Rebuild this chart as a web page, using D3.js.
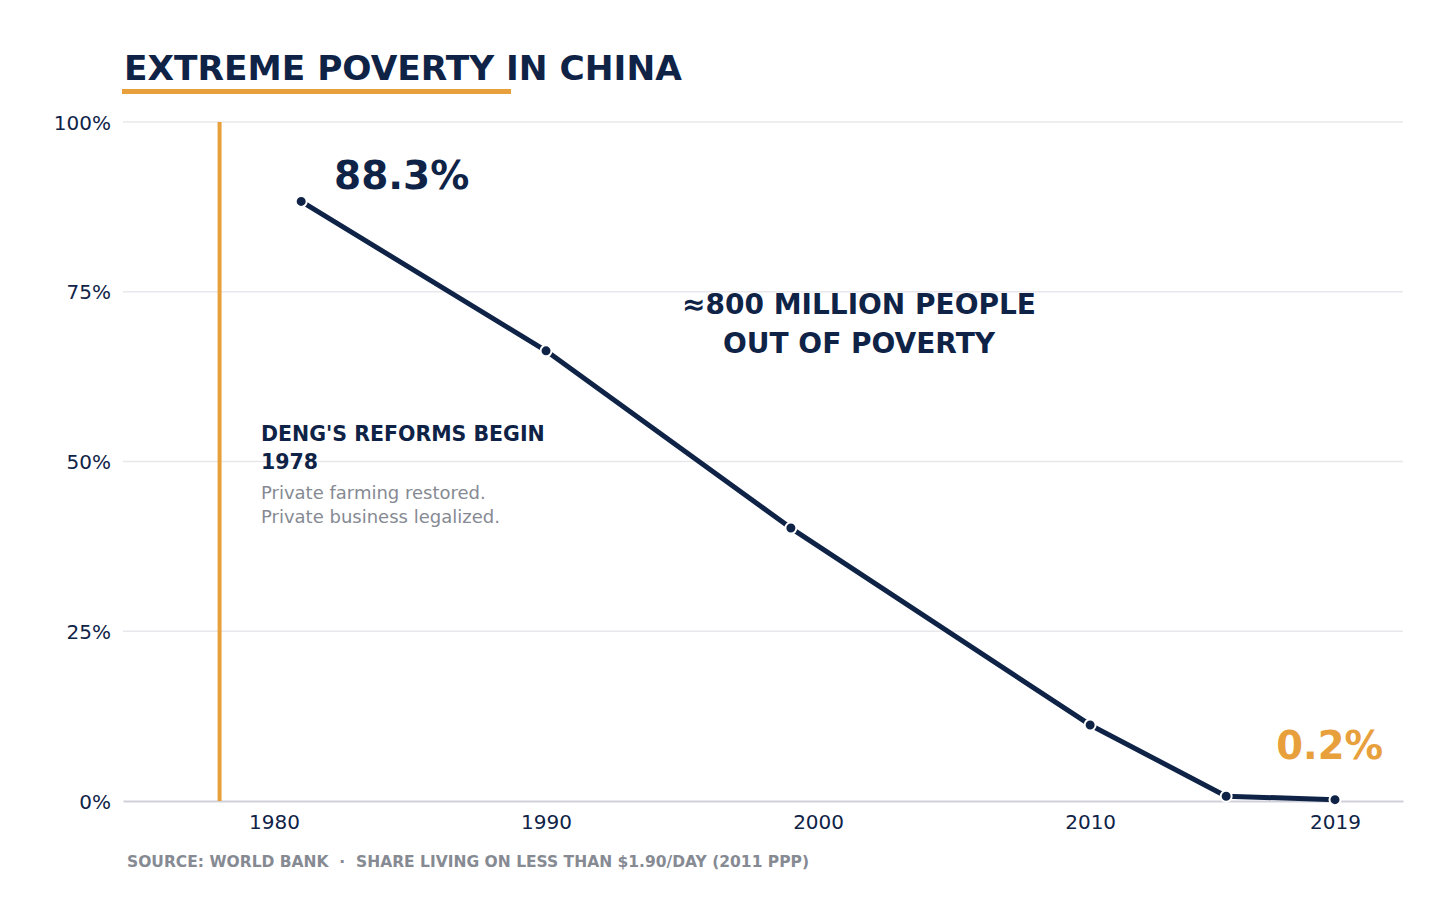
<!DOCTYPE html>
<html>
<head>
<meta charset="utf-8">
<script src="https://cdn.jsdelivr.net/npm/d3@7"></script>
<style>
  body { margin: 0; background: #fff; }
  text { font-family: "DejaVu Sans", sans-serif; }
</style>
</head>
<body>
<div id="chart"></div>
<script>
// data
const years = [1981, 1990, 1999, 2010, 2015, 2019]
const poverty = [88.3, 66.3, 40.2, 11.2, 0.7, 0.2]
const xTicks = [1980, 1990, 2000, 2010, 2019]
const yTicks = [0, 25, 50, 75, 100]
const reformYear = 1978

const navy = '#0f2347'
const orange = '#e8a03c'
const grey = '#868a93'

const svgWidth = 1456
const svgHeight = 924
const margin = { left: 123, right: 53, top: 122, bottom: 123 }

const svg = d3.select('#chart')
    .append('svg')
    .attr('width', svgWidth)
    .attr('height', svgHeight)

const x = d3.scaleLinear()
    .domain([1974.45, 2021.5])
    .range([margin.left, svgWidth - margin.right])

const y = d3.scaleLinear()
    .domain([0, 100])
    .range([svgHeight - margin.bottom, margin.top])

// gridlines
svg.append('g')
    .selectAll('line')
    .data(yTicks.filter(d => d > 0))
    .join('line')
    .attr('x1', x.range()[0])
    .attr('x2', x.range()[1])
    .attr('y1', d => y(d))
    .attr('y2', d => y(d))
    .attr('stroke', '#e8e8ec')
    .attr('stroke-width', 1.5)

// y axis labels
const yAxis = d3.axisLeft(y)
    .tickValues(yTicks)
    .tickFormat(d => d + '%')
    .tickSize(0)
    .tickPadding(12)

svg.append('g')
    .attr('transform', `translate(${x.range()[0]},0)`)
    .call(yAxis)
    .call(g => g.select('.domain').remove())
    .selectAll('text')
    .attr('font-size', 20)
    .attr('font-family', 'DejaVu Sans')
    .attr('fill', navy)
    .attr('dy', '0.35em')

// x axis
const xAxis = d3.axisBottom(x)
    .tickValues(xTicks)
    .tickFormat(d3.format('d'))
    .tickSize(0)
    .tickPadding(14)

svg.append('g')
    .attr('transform', `translate(0,${y(0)})`)
    .call(xAxis)
    .call(g => g.select('.domain')
        .attr('stroke', '#cfd0d9')
        .attr('stroke-width', 2))
    .selectAll('text')
    .attr('font-size', 20)
    .attr('font-family', 'DejaVu Sans')
    .attr('fill', navy)

// reform line
svg.append('line')
    .attr('x1', x(reformYear))
    .attr('x2', x(reformYear))
    .attr('y1', y(100))
    .attr('y2', y(0))
    .attr('stroke', orange)
    .attr('stroke-width', 4)

// line
const series = years.map((d, i) => ({ year: d, value: poverty[i] }))

const line = d3.line()
    .x(d => x(d.year))
    .y(d => y(d.value))

svg.append('path')
    .datum(series)
    .attr('d', line)
    .attr('fill', 'none')
    .attr('stroke', navy)
    .attr('stroke-width', 5)
    .attr('stroke-linejoin', 'round')

svg.append('g')
    .selectAll('circle')
    .data(series)
    .join('circle')
    .attr('cx', d => x(d.year))
    .attr('cy', d => y(d.value))
    .attr('r', 5.5)
    .attr('fill', navy)
    .attr('stroke', 'white')
    .attr('stroke-width', 2)

// title
svg.append('text')
    .attr('x', 124)
    .attr('y', 80)
    .attr('font-size', 34.4)
    .attr('font-weight', 'bold')
    .attr('fill', navy)
    .text('EXTREME POVERTY IN CHINA')

svg.append('rect')
    .attr('x', 122)
    .attr('y', 89)
    .attr('width', 389)
    .attr('height', 5)
    .attr('fill', orange)

// annotations
svg.append('text')
    .attr('x', 334)
    .attr('y', 189)
    .attr('font-size', 39)
    .attr('font-weight', 'bold')
    .attr('fill', navy)
    .text(poverty[0] + '%')

svg.append('text')
    .attr('x', 1383)
    .attr('y', 759)
    .attr('text-anchor', 'end')
    .attr('font-size', 38.5)
    .attr('font-weight', 'bold')
    .attr('fill', orange)
    .text(poverty[poverty.length - 1] + '%')

const mid = svg.append('text')
    .attr('text-anchor', 'middle')
    .attr('font-size', 28)
    .attr('font-weight', 'bold')
    .attr('fill', navy)
mid.append('tspan').attr('x', 859).attr('y', 314).text('≈800 MILLION PEOPLE')
mid.append('tspan').attr('x', 859).attr('y', 353).text('OUT OF POVERTY')

const deng = svg.append('text')
    .attr('font-size', 20.5)
    .attr('font-weight', 'bold')
    .attr('fill', navy)
deng.append('tspan').attr('x', 261).attr('y', 441).text("DENG'S REFORMS BEGIN")
deng.append('tspan').attr('x', 261).attr('y', 469).text(reformYear)

const note = svg.append('text')
    .attr('font-size', 18)
    .attr('fill', grey)
note.append('tspan').attr('x', 261).attr('y', 499).text('Private farming restored.')
note.append('tspan').attr('x', 261).attr('y', 523).text('Private business legalized.')

// source
svg.append('text')
    .attr('x', 127)
    .attr('y', 867)
    .attr('font-size', 15.5)
    .attr('font-weight', 'bold')
    .attr('fill', grey)
    .attr('xml:space', 'preserve')
    .text('SOURCE: WORLD BANK  ·  SHARE LIVING ON LESS THAN $1.90/DAY (2011 PPP)')
</script>
</body>
</html>
